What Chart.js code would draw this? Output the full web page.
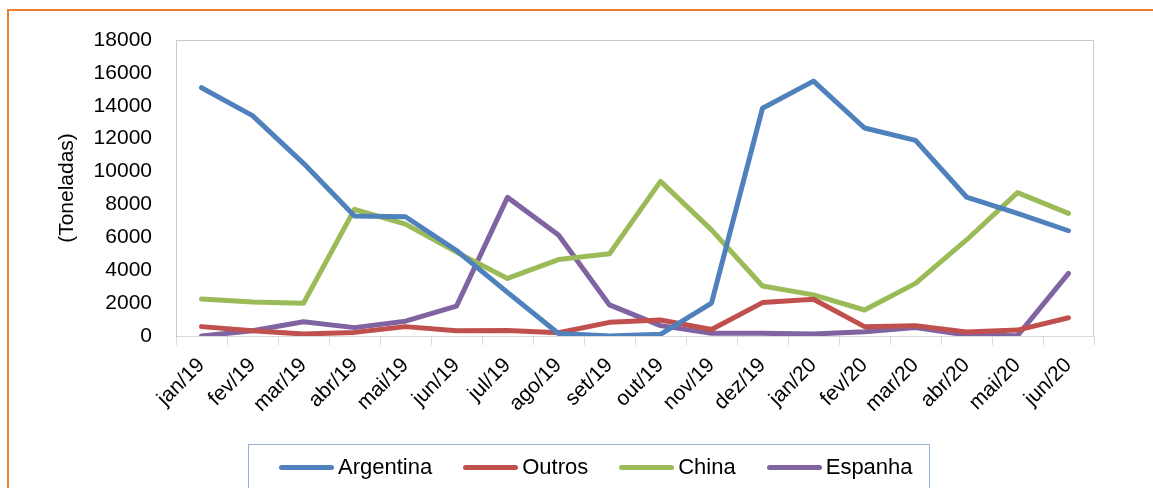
<!DOCTYPE html>
<html>
<head>
<meta charset="utf-8">
<script src="https://cdn.jsdelivr.net/npm/chart.js@4.4.1/dist/chart.umd.min.js"></script>
<style>
  html, body { margin: 0; padding: 0; background: #ffffff; overflow: hidden; }
  #wrap { position: relative; width: 1153px; height: 488px; overflow: hidden; }
  #frame { position: absolute; left: 7px; top: 9px; width: 1300px; height: 700px; border: 2px solid #ED7D31; box-sizing: border-box; }
  #chart { position: absolute; left: 0; top: 0; }
  #legend { position: absolute; left: 248px; top: 444px; width: 682px; height: 80px; border: 1px solid #95B3D7; box-sizing: border-box; background: #fff; }
  #legend .items { position: absolute; left: 30px; top: 9px; display: flex; align-items: center; font-family: "Liberation Sans", Arial, sans-serif; font-size: 22px; color: #000; white-space: nowrap; }
  #legend .item { display: flex; align-items: center; margin-right: 31px; }
  #legend .swatch { width: 55px; height: 5px; border-radius: 3px; margin-right: 4px; }
</style>
</head>
<body>
<div id="wrap">
  <div id="frame"></div>
  <canvas id="chart" width="1153" height="488"></canvas>
  <div id="legend"><div class="items" id="legendItems"></div></div>
</div>
<script>
const categories = ["jan/19","fev/19","mar/19","abr/19","mai/19","jun/19","jul/19","ago/19","set/19","out/19","nov/19","dez/19","jan/20","fev/20","mar/20","abr/20","mai/20","jun/20"];
const argentina = [15100,13400,10500,7300,7250,5200,2650,150,0,100,2000,13850,15500,12650,11900,8450,7450,6400];
const outros    = [570,320,120,220,570,320,340,200,830,970,400,2030,2230,570,630,240,360,1110];
const china     = [2250,2070,1990,7700,6800,5100,3500,4650,5000,9400,6450,3040,2500,1580,3200,5840,8720,7460];
const espanha   = [0,320,870,510,900,1820,8430,6140,1890,630,160,160,120,260,510,60,20,3810];
const yTicks = [0,2000,4000,6000,8000,10000,12000,14000,16000,18000];
const seriesNames = ["Argentina","Outros","China","Espanha"];
const seriesColors = ["#4F81BD","#C0504D","#9BBB59","#8064A2"];
const yTitle = "(Toneladas)";

const seriesData = [argentina, outros, china, espanha];
const datasets = seriesNames.map((name, i) => ({
  label: name,
  data: seriesData[i],
  borderColor: seriesColors[i],
  backgroundColor: seriesColors[i],
  borderWidth: 5,
  pointRadius: 0,
  pointHoverRadius: 0,
  tension: 0,
  fill: false,
  borderCapStyle: 'round',
  borderJoinStyle: 'round'
}));

const plotBorder = {
  id: 'plotBorder',
  beforeDatasetsDraw(chart) {
    const {ctx, chartArea: a} = chart;
    ctx.save();
    ctx.strokeStyle = '#C9C9C9';
    ctx.lineWidth = 1;
    ctx.beginPath();
    ctx.moveTo(a.left + 0.5, a.bottom);
    ctx.lineTo(a.left + 0.5, a.top + 0.5);
    ctx.lineTo(a.right - 0.5, a.top + 0.5);
    ctx.lineTo(a.right - 0.5, a.bottom);
    ctx.stroke();
    ctx.restore();
  }
};

const font = "'Liberation Sans', Arial, sans-serif";

new Chart(document.getElementById('chart'), {
  type: 'line',
  data: { labels: categories, datasets },
  options: {
    responsive: false,
    animation: false,
    events: [],
    layout: { padding: { top: 40, right: 59, left: 0, bottom: 0 } },
    plugins: { legend: { display: false }, tooltip: { enabled: false } },
    scales: {
      x: {
        offset: true,
        grid: { offset: true, drawOnChartArea: false, drawTicks: true, tickLength: 9, color: '#D9D9D9', lineWidth: 1 },
        border: { display: true, color: '#D9D9D9', width: 1 },
        ticks: { autoSkip: false, maxRotation: 45, minRotation: 45, padding: 8, color: '#000', font: { family: font, size: 21 } },
        afterFit(scale) { scale.height = 152; }
      },
      y: {
        min: 0,
        max: 18000,
        afterBuildTicks(scale) { scale.ticks = yTicks.map(v => ({ value: v })); },
        grid: { display: false, drawTicks: false },
        border: { display: true, color: '#C9C9C9', width: 1 },
        ticks: { padding: 24, color: '#000', font: { family: font, size: 21 }, callback: (v) => String(v) },
        title: { display: true, text: yTitle, color: '#000', font: { family: font, size: 21 }, padding: { top: 55, bottom: 0 } },
        afterFit(scale) { scale.width = 176; }
      }
    }
  },
  plugins: [plotBorder]
});

const legendEl = document.getElementById('legendItems');
seriesNames.forEach((name, i) => {
  const item = document.createElement('div');
  item.className = 'item';
  const sw = document.createElement('span');
  sw.className = 'swatch';
  sw.style.background = seriesColors[i];
  const tx = document.createElement('span');
  tx.textContent = name;
  item.appendChild(sw);
  item.appendChild(tx);
  legendEl.appendChild(item);
});
</script>
</body>
</html>
